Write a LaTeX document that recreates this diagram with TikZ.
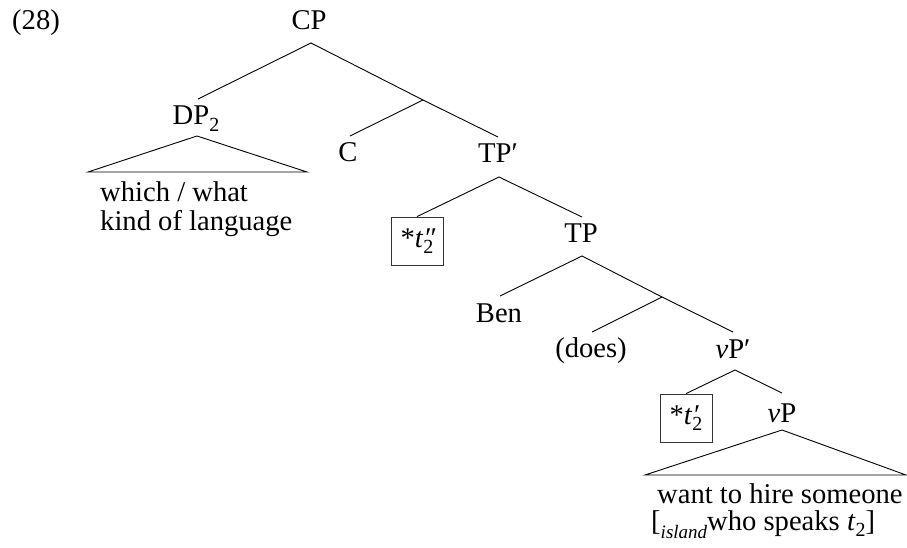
\documentclass[tikz,border=0pt]{standalone}
\usepackage{fontspec}
\setmainfont{Liberation Serif}
\newcommand\sbs[1]{\raisebox{-0.22em}{\fontsize{20}{20}\selectfont #1}}
\newcommand\trc[1]{\textit{t}\makebox[0pt][l]{\textit{#1}}\sbs{2}}
\tikzset{
  lbl/.style={font=\fontsize{28.6}{28}\selectfont, inner sep=0pt, anchor=base},
  lblw/.style={lbl, anchor=base west},
  trbox/.style={font=\fontsize{28.6}{28}\selectfont, draw=black!80, line width=0.8pt, minimum width=52pt, minimum height=48pt, inner sep=2pt},
  br/.style={line width=0.9pt}
}
\begin{document}
\begin{tikzpicture}[x=1pt,y=-1pt]
\useasboundingbox (0,0) rectangle (907,548);
% labels
\node[lblw] (ex) at (12,30) {(28)};
\node[lbl] (CP) at (309,30) {CP};
\node[lbl] (DP) at (196,125) {DP\sbs{2}};
\node[lbl] (C) at (348,162) {C};
\node[lbl] (TPb) at (498,163) {TP′};
\node[trbox] (tpp) at (417,241) {*\trc{″}};
\node[lbl] (TP) at (581,242) {TP};
\node[lbl] (Ben) at (499,322) {Ben};
\node[lbl] (does) at (591,357) {(does)};
\node[lbl] (vPb) at (733,358) {\textit{v}P′};
\node[trbox] (tp) at (686,418) {*\trc{′}};
\node[lbl] (vP) at (782,422) {\textit{v}P};
\node[lblw] (wh1) at (100,202) {which / what};
\node[lblw] (wh2) at (100,230) {kind of language};
\node[lblw] (w1) at (657,503) {want to hire someone};
\node[lblw] (w2) at (651,530) {[\raisebox{-0.3em}{\fontsize{19}{19}\selectfont\textit{island}}who speaks \textit{t}\sbs{2}]};
% connector points
\coordinate (CPb) at (311,43);
\coordinate (DPt) at (198,99);
\coordinate (X1) at (423,100);
\coordinate (Ct) at (350,136);
\coordinate (TPbt) at (498,137);
\coordinate (TPbb) at (499,177);
\coordinate (TPt) at (582,217);
\coordinate (TPbot) at (582,256);
\coordinate (Bent) at (500,296);
\coordinate (X2) at (662,297);
\coordinate (doest) at (592,332);
\coordinate (vPbt) at (733,332);
\coordinate (vPbb) at (735,370);
\coordinate (vPt) at (782,393);
\coordinate (DPa) at (197,136);
\coordinate (DPl) at (88,172);
\coordinate (DPr) at (307,172);
\coordinate (vPa) at (782,430);
\coordinate (vPl) at (645,475);
\coordinate (vPr) at (906,475);
% branches
\draw[br] (DPt) -- (CPb) -- (X1) -- (TPbt);
\draw[br] (X1) -- (Ct);
\draw[br] (tpp.north) -- (TPbb) -- (TPt);
\draw[br] (Bent) -- (TPbot) -- (X2) -- (vPbt);
\draw[br] (X2) -- (doest);
\draw[br] (tp.north) -- (vPbb) -- (vPt);
\draw[br] (DPa) -- (DPl) -- (DPr) -- cycle;
\draw[br] (vPa) -- (vPl) -- (vPr) -- cycle;
\end{tikzpicture}
\end{document}
